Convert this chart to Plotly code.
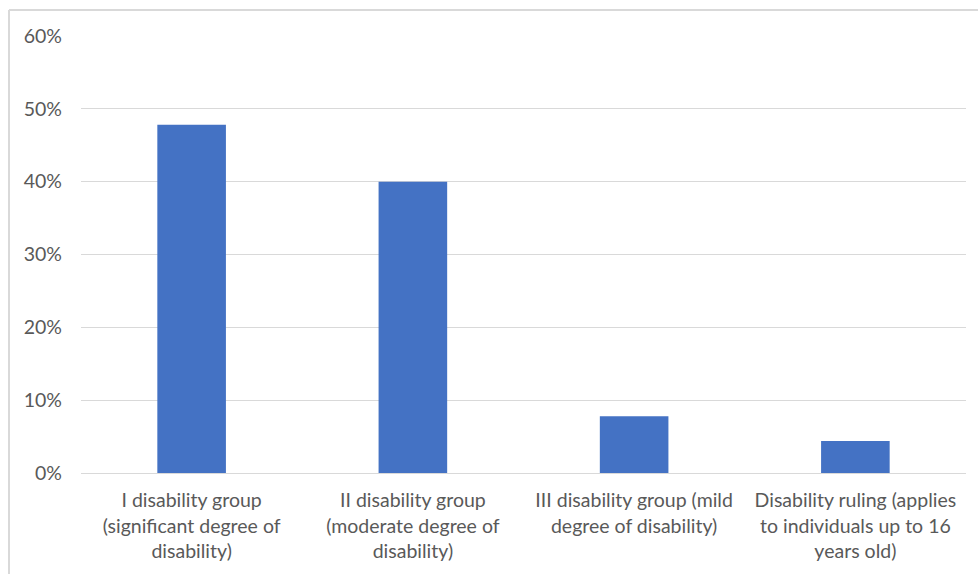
import plotly.graph_objects as go

categories = [
    "I disability group<br>(significant degree of<br>disability)",
    "II disability group<br>(moderate degree of<br>disability)",
    "III disability group (mild<br>degree of disability)",
    "Disability ruling (applies<br>to individuals up to 16<br>years old)",
]
values = [0.478, 0.400, 0.078, 0.044]
y_ticks = [0, 0.1, 0.2, 0.3, 0.4, 0.5, 0.6]

FONT = "Lato, 'Noto Sans', sans-serif"
GRAY = "#595959"
FS = 19.5

fig = go.Figure(go.Bar(
    x=categories, y=values,
    marker=dict(color="#4472C4", line=dict(width=0)),
    width=0.31,
))

L, R, T, B = 81, 12, 36, 101
W, H = 978, 574

fig.update_layout(
    width=W, height=H,
    margin=dict(l=L, r=R, t=T, b=B),
    paper_bgcolor="white", plot_bgcolor="white",
    showlegend=False,
    font=dict(family=FONT, color=GRAY, size=FS),
    xaxis=dict(
        showgrid=False, showline=True, linecolor="#D9D9D9", linewidth=1,
        ticks="", tickfont=dict(size=FS, color=GRAY),
        ticklabelstandoff=10, tickangle=0,
    ),
    yaxis=dict(
        range=[0, 0.6], tickvals=y_ticks, tickformat=".0%",
        showgrid=True, gridcolor="#D9D9D9", gridwidth=1,
        zeroline=True, zerolinecolor="#D9D9D9", zerolinewidth=1,
        showline=False, ticks="", tickfont=dict(size=FS, color=GRAY),
        ticklabelstandoff=18,
    ),
    shapes=[
        dict(type="line", xref="paper", yref="paper",
             x0=(9 - L) / (W - L - R), x1=(W - L) / (W - L - R),
             y0=(H - B - 10) / (H - T - B), y1=(H - B - 10) / (H - T - B),
             line=dict(color="#D9D9D9", width=2)),
        dict(type="line", xref="paper", yref="paper",
             x0=(9 - L) / (W - L - R), x1=(9 - L) / (W - L - R),
             y0=(H - B - 10) / (H - T - B), y1=-B / (H - T - B),
             line=dict(color="#D9D9D9", width=2)),
    ],
)

fig.write_html("out.html")
